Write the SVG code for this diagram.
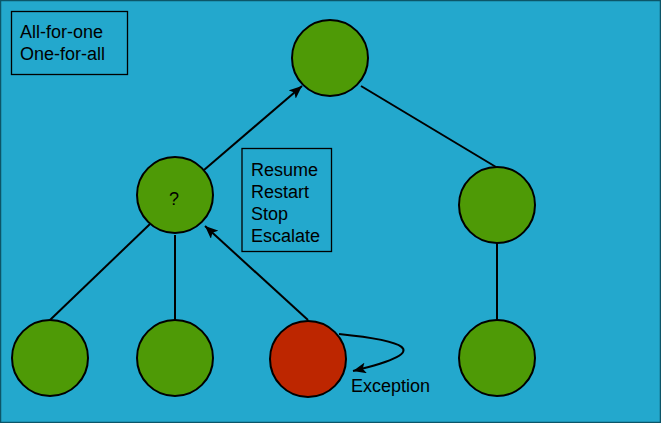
<svg xmlns="http://www.w3.org/2000/svg" width="661" height="423" viewBox="0 0 661 423">
<defs>
<style>
.n{fill:#4e9a06;stroke:#000;stroke-width:2}
.r{fill:#bd2600;stroke:#000;stroke-width:2}
.e{fill:none;stroke:#000;stroke-width:2}
.b{fill:none;stroke:#000;stroke-width:1.3}
text{font-family:"Liberation Sans",Arial,sans-serif;font-size:18px;fill:#000}
</style>
<marker id="ah" viewBox="0 0 13 11" refX="13" refY="5.5" markerWidth="13" markerHeight="11" markerUnits="userSpaceOnUse" orient="auto">
<path d="M0,0 L13,5.5 L0,11 L3,5.5 Z" fill="#000"/>
</marker>
</defs>
<rect x="0.5" y="0.5" width="660" height="422" fill="#23a8cd" stroke="#0c5568" stroke-width="1.5"/>
<g id="connectors">
<line class="e" x1="204" y1="170" x2="302" y2="86" marker-end="url(#ah)"/>
<line class="e" x1="361" y1="86" x2="496" y2="167"/>
<line class="e" x1="150" y1="224" x2="50" y2="320"/>
<line class="e" x1="175" y1="235" x2="175" y2="320"/>
<line class="e" x1="308" y1="320" x2="205" y2="226" marker-end="url(#ah)"/>
<line class="e" x1="497" y1="243" x2="497" y2="320"/>
<path class="e" d="M339,334 C398,340 442,350 353,371" marker-end="url(#ah)"/>
</g>
<g id="box-strategy">
<rect class="b" x="11.5" y="11.5" width="116" height="63"/>
<text x="20" y="38">All-for-one</text>
<text x="20" y="60">One-for-all</text>
</g>
<g id="box-directives">
<rect class="b" x="242" y="148.5" width="89.5" height="103"/>
<text x="251" y="176">Resume</text>
<text x="251" y="198">Restart</text>
<text x="251" y="220">Stop</text>
<text x="251" y="242">Escalate</text>
</g>
<g id="node-root"><circle class="n" cx="330" cy="58" r="38"/></g>
<g id="node-supervisor"><circle class="n" cx="175" cy="195" r="38"/><text x="174" y="204.5" text-anchor="middle">?</text></g>
<g id="node-right"><circle class="n" cx="497" cy="205" r="38"/></g>
<g id="node-c1"><circle class="n" cx="50" cy="358" r="38"/></g>
<g id="node-c2"><circle class="n" cx="175" cy="358" r="38"/></g>
<g id="node-failed"><circle class="r" cx="308" cy="359" r="38"/></g>
<g id="node-c4"><circle class="n" cx="497" cy="358" r="38"/></g>
<g id="label-exception"><text x="351" y="392">Exception</text></g>
</svg>
